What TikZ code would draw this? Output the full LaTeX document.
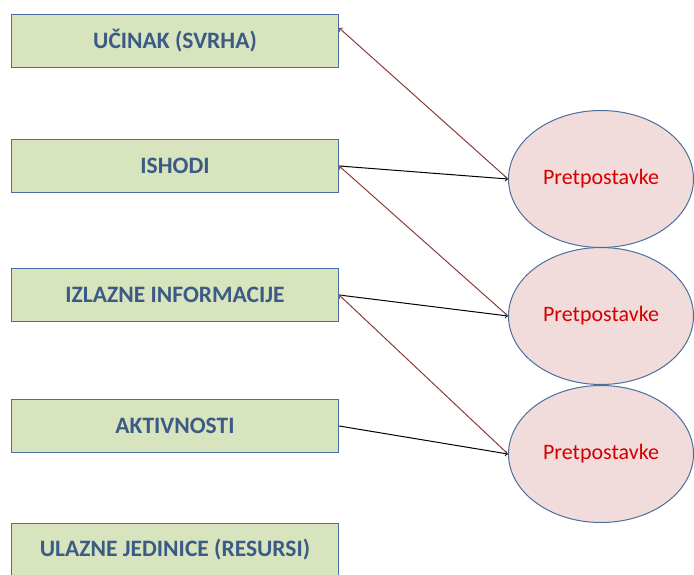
\documentclass[tikz,border=0pt]{standalone}
\usepackage{fontspec}
\setmainfont{Carlito}
\usetikzlibrary{shapes.geometric,calc}

\definecolor{boxfill}{HTML}{D7E4BD}
\definecolor{boxline}{HTML}{4A6F9C}
\definecolor{boxtext}{HTML}{3B5B86}
\definecolor{ovalfill}{HTML}{F2DCDB}
\definecolor{ovaltext}{HTML}{D40000}
\definecolor{backarrow}{HTML}{8C3A3A}

\tikzset{
  level/.style={draw=boxline, line width=1.3pt, fill=boxfill, text=boxtext,
    minimum width=327pt, minimum height=53pt, inner sep=0pt,
    font=\bfseries\fontsize{23.5}{26}\selectfont},
  assumption/.style={ellipse, draw=boxline, line width=1pt, fill=ovalfill, text=ovaltext,
    minimum width=185pt, minimum height=137pt, inner sep=0pt,
    font=\fontsize{22}{25}\selectfont},
  fwd/.style={->, line width=1pt, black},
  back/.style={->, line width=1pt, backarrow}
}

\begin{document}
\begin{tikzpicture}[x=1pt, y=-1pt]
	% Frame
	\useasboundingbox (0,0) rectangle (694,574);

	% Levels
	\node[level] (ucinak) at (175,41) {UČINAK (SVRHA)};
	\node[level] (ishodi) at (175,166) {ISHODI};
	\node[level] (izlazne) at (175,295) {IZLAZNE INFORMACIJE};
	\node[level] (aktivnosti) at (175,426) {AKTIVNOSTI};
	\node[level] (ulazne) at (175,550) {ULAZNE JEDINICE (RESURSI)};

	% Assumptions
	\node[assumption] (p1) at (601,179) {Pretpostavke};
	\node[assumption] (p2) at (601,316) {Pretpostavke};
	\node[assumption] (p3) at (601,454) {Pretpostavke};

	% Arrows
	\draw[fwd] (ishodi.east) -- (p1.west);
	\draw[fwd] (izlazne.east) -- (p2.west);
	\draw[fwd] (aktivnosti.east) -- (p3.west);
	\draw[back] (p1.west) -- ($(ucinak.north east)!0.26!(ucinak.south east)$);
	\draw[back] (p2.west) -- (ishodi.east);
	\draw[back] (p3.west) -- (izlazne.east);
\end{tikzpicture}
\end{document}
